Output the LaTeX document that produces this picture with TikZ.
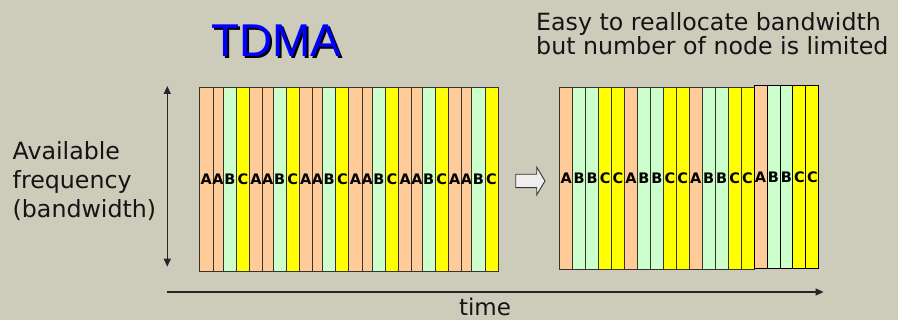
\documentclass[tikz,border=0pt]{standalone}
\usepackage{fontspec}
\setmainfont{DejaVu Sans}
\newfontfamily\arialf{Liberation Sans}
\usetikzlibrary{arrows.meta}

\definecolor{bgc}{RGB}{205,203,186}
\definecolor{slotA}{RGB}{255,204,153}
\definecolor{slotB}{RGB}{204,255,204}
\definecolor{slotC}{RGB}{255,255,0}
\definecolor{edgec}{RGB}{55,52,45}
\definecolor{inkc}{RGB}{20,20,20}
\definecolor{titleblue}{RGB}{0,0,255}
\definecolor{hollowc}{RGB}{238,238,238}

\newcommand{\slotlbl}[1]{\makebox[0pt]{#1}}
\newcommand{\shadowtext}[1]{\makebox[0pt][l]{\hspace{1.8pt}\raisebox{-1.8pt}{\color{black}#1}}\textcolor{titleblue}{#1}}

\begin{document}
\begin{tikzpicture}[x=1pt,y=-1pt,
  slot/.style={draw=edgec,line width=0.9pt,rectangle,inner sep=0pt,anchor=north west,
    font=\bfseries\fontsize{14.5}{14.5}\selectfont,text=black},
  slotL/.style={slot,minimum height=183.4pt},
  slotR/.style={slot,minimum height=182.6pt,minimum width=12.95pt},
  slotRlast/.style={slotR,draw=black},
  label/.style={anchor=base west,inner sep=0pt,text=inkc,font=\fontsize{23.7}{23.7}\selectfont},
  axis/.style={draw=black!85,line width=1.2pt},
  tip/.style={-{Triangle[length=8pt,width=7pt]}}
]
\fill[bgc] (0,0) rectangle (898,320);
\useasboundingbox (0,0) rectangle (898,320);

% title with shadow
\node[anchor=base west,inner sep=0pt,font=\arialf\fontsize{46}{46}\selectfont] (title) at (211,56.7) {\shadowtext{TDMA}};

% note
\node[label] (note1) at (536,30.7) {Easy to reallocate bandwidth};
\node[label] (note2) at (536,54.2) {but number of node is limited};

% left axis label
\node[label] (avail1) at (12.5,160) {Available};
\node[label] (avail2) at (12.5,189) {frequency};
\node[label] (avail3) at (12.5,217.5) {(bandwidth)};

% left block: 6 groups of A A B C
\foreach \k in {0,...,5} {
  \pgfmathsetmacro\gx{199.3+49.7*\k}
  \node[slotL,fill=slotA,minimum width=13.2pt] (La\k) at (\gx,87.3) {\slotlbl{A}};
  \node[slotL,fill=slotA,minimum width=10.3pt] (Lb\k) at (\gx+13.2,87.3) {\slotlbl{A}};
  \node[slotL,fill=slotB,minimum width=13.2pt] (Lc\k) at (\gx+23.5,87.3) {\slotlbl{B}};
  \node[slotL,fill=slotC,minimum width=13.0pt] (Ld\k) at (\gx+36.7,87.3) {\slotlbl{C}};
}

% right block: 4 groups of A B B C C
\foreach \k in {0,1,2} {
  \pgfmathsetmacro\gx{559.3+64.75*\k}
  \node[slotR,fill=slotA] (Ra\k) at (\gx,86.7) {\slotlbl{A}};
  \node[slotR,fill=slotB] (Rb\k) at (\gx+12.95,86.7) {\slotlbl{B}};
  \node[slotR,fill=slotB] (Rc\k) at (\gx+25.9,86.7) {\slotlbl{B}};
  \node[slotR,fill=slotC] (Rd\k) at (\gx+38.85,86.7) {\slotlbl{C}};
  \node[slotR,fill=slotC] (Re\k) at (\gx+51.8,86.7) {\slotlbl{C}};
}
\node[slotRlast,fill=slotA] (Ra3) at (753.6,85.5) {\slotlbl{A}};
\node[slotRlast,fill=slotB] (Rb3) at (766.55,85.5) {\slotlbl{B}};
\node[slotRlast,fill=slotB] (Rc3) at (779.5,85.5) {\slotlbl{B}};
\node[slotRlast,fill=slotC] (Rd3) at (792.45,85.5) {\slotlbl{C}};
\node[slotRlast,fill=slotC] (Re3) at (805.4,85.5) {\slotlbl{C}};

% hollow arrow between blocks
\coordinate (hs) at (515.7,181);
\draw[draw=edgec,fill=hollowc,line width=0.9pt]
  (hs) ++(0,-6.7) -- ++(21,0) -- ++(0,-7.2) -- ++(8.3,13.9) -- ++(-8.3,13.9)
  -- ++(0,-7.2) -- ++(-21,0) -- cycle;

% frequency axis
\coordinate (fbot) at (167.3,266.7);
\coordinate (ftop) at (167.3,86);
\draw[axis,{Triangle[length=8pt,width=7pt]}-{Triangle[length=8pt,width=7pt]}] (fbot) -- (ftop);

% time axis
\coordinate (tstart) at (166.7,292);
\coordinate (tend) at (823.6,292);
\draw[axis,tip] (tstart) -- (tend);
\node[anchor=base,inner sep=0pt,text=inkc,font=\fontsize{23}{23}\selectfont] (timelbl) at (485,316) {time};
\end{tikzpicture}
\end{document}
